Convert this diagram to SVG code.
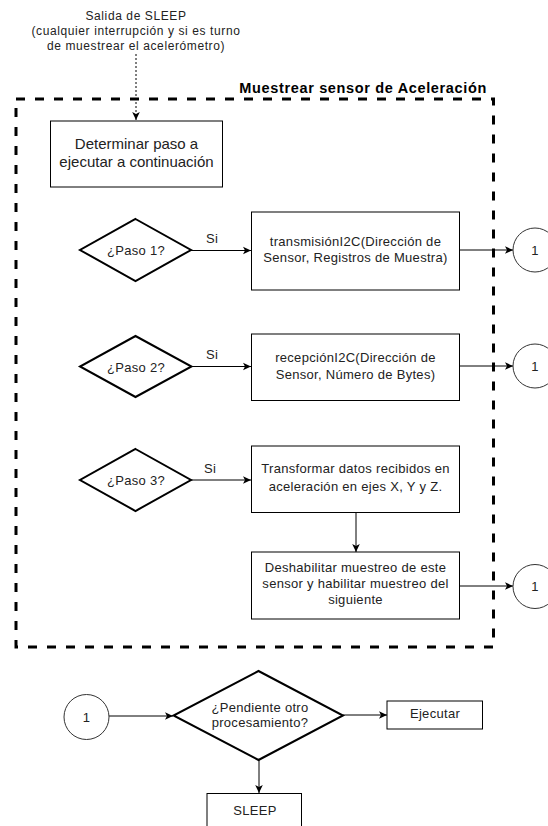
<svg xmlns="http://www.w3.org/2000/svg" width="548" height="826" viewBox="0 0 548 826">
  <style>
    .box { fill: #fff; stroke: #000; stroke-width: 1; }
    .dec { fill: #fff; stroke: #000; stroke-width: 2; }
    .conn { fill: #fff; stroke: #333; stroke-width: 1; }
    .edge { fill: none; stroke: #000; stroke-width: 1; }
    .t { font-family: "Liberation Sans", Arial, sans-serif; fill: #222; text-anchor: middle; }
    .s13 { font-size: 13px; letter-spacing: 0.3px; }
    .s12 { font-size: 12px; letter-spacing: 0.6px; }
    .s15 { font-size: 15px; }
    .title { font-family: "Liberation Sans", Arial, sans-serif; font-weight: bold; font-size: 14.5px; letter-spacing: 0.65px; fill: #000; text-anchor: end; }
  </style>
  <defs>
    <marker id="arrow" markerUnits="userSpaceOnUse" markerWidth="10" markerHeight="10" viewBox="0 0 10 10" refX="8" refY="5" orient="auto">
      <path d="M0,1.2 L8,5 L0,8.8 L2,5 Z" fill="#000"/>
    </marker>
  </defs>

  <rect width="548" height="826" fill="#fff"/>

  <!-- Group frame -->
  <g id="frame">
    <rect x="16" y="99" width="477.5" height="548" fill="none" stroke="#000" stroke-width="3" stroke-dasharray="9 10"/>
    <text class="title" x="487" y="93">Muestrear sensor de Aceleración</text>
  </g>

  <!-- Entry label -->
  <g id="entry">
    <text class="t s12" x="136" y="20">Salida de SLEEP</text>
    <text class="t s12" x="136" y="35">(cualquier interrupción y si es turno</text>
    <text class="t s12" x="136" y="49.5">de muestrear el acelerómetro)</text>
  </g>

  <!-- Connectors -->
  <g id="connectors">
    <path class="edge" d="M136,54 V120" stroke-dasharray="2 2" marker-end="url(#arrow)"/>
    <path class="edge" d="M191,250.5 H251" marker-end="url(#arrow)"/>
    <path class="edge" d="M460,250 H513" marker-end="url(#arrow)"/>
    <path class="edge" d="M191,366.5 H251" marker-end="url(#arrow)"/>
    <path class="edge" d="M460,366 H513" marker-end="url(#arrow)"/>
    <path class="edge" d="M191,480 H251" marker-end="url(#arrow)"/>
    <path class="edge" d="M356,513 V552" marker-end="url(#arrow)"/>
    <path class="edge" d="M460,586 H513" marker-end="url(#arrow)"/>
    <path class="edge" d="M109,716 H173" marker-end="url(#arrow)"/>
    <path class="edge" d="M343,715 H387" marker-end="url(#arrow)"/>
    <path class="edge" d="M259,760 V793" marker-end="url(#arrow)"/>
    <text class="t s13" x="212" y="243">Si</text>
    <text class="t s13" x="212" y="359">Si</text>
    <text class="t s13" x="210" y="473">Si</text>
  </g>

  <g id="determinar">
    <rect class="box" x="50.5" y="121" width="172" height="66"/>
    <text class="t s15" x="136.5" y="149">Determinar paso a</text>
    <text class="t s15" x="136.5" y="167">ejecutar a continuación</text>
  </g>

  <g id="paso1">
    <polygon class="dec" points="135.5,219 191,250 135.5,281 80,250"/>
    <text class="t s13" x="136" y="255">¿Paso 1?</text>
  </g>

  <g id="transmision">
    <rect class="box" x="251.5" y="212" width="208" height="78"/>
    <text class="t s13" x="355.5" y="245.5">transmisiónI2C(Dirección de</text>
    <text class="t s13" x="355.5" y="262">Sensor, Registros de Muestra)</text>
  </g>

  <g id="conector1a">
    <circle class="conn" cx="535" cy="250" r="22"/>
    <text class="t s13" x="535" y="254.5">1</text>
  </g>

  <g id="paso2">
    <polygon class="dec" points="135.5,336 191.5,366.5 135.5,397 80,366.5"/>
    <text class="t s13" x="136" y="371.5">¿Paso 2?</text>
  </g>

  <g id="recepcion">
    <rect class="box" x="251.5" y="334" width="208" height="66.5"/>
    <text class="t s13" x="355.5" y="361.5">recepciónI2C(Dirección de</text>
    <text class="t s13" x="355.5" y="379">Sensor, Número de Bytes)</text>
  </g>

  <g id="conector1b">
    <circle class="conn" cx="535" cy="366" r="22"/>
    <text class="t s13" x="535" y="370.5">1</text>
  </g>

  <g id="paso3">
    <polygon class="dec" points="135.5,449 191,480 135.5,511 80,480"/>
    <text class="t s13" x="136" y="485">¿Paso 3?</text>
  </g>

  <g id="transformar">
    <rect class="box" x="251.5" y="446" width="208" height="66.5"/>
    <text class="t s13" x="355.5" y="473">Transformar datos recibidos en</text>
    <text class="t s13" x="355.5" y="490.5">aceleración en ejes X, Y y Z.</text>
  </g>

  <g id="deshabilitar">
    <rect class="box" x="251.5" y="552" width="208" height="67"/>
    <text class="t s13" x="355.5" y="571.5">Deshabilitar muestreo de este</text>
    <text class="t s13" x="355.5" y="588">sensor y habilitar muestreo del</text>
    <text class="t s13" x="355.5" y="604">siguiente</text>
  </g>

  <g id="conector1c">
    <circle class="conn" cx="535" cy="586.5" r="22"/>
    <text class="t s13" x="535" y="591">1</text>
  </g>

  <g id="conector1d">
    <circle class="conn" cx="86.5" cy="717" r="22.5"/>
    <text class="t s13" x="86.5" y="721.5">1</text>
  </g>

  <g id="pendiente">
    <polygon class="dec" points="258.5,671 343,715.5 258.5,760 173.5,715.5"/>
    <text class="t s13" x="260" y="711.5">¿Pendiente otro</text>
    <text class="t s13" x="260" y="727">procesamiento?</text>
  </g>

  <g id="ejecutar">
    <rect class="box" x="387" y="701" width="95.5" height="28"/>
    <text class="t s13" x="435" y="717.5">Ejecutar</text>
  </g>

  <g id="sleep">
    <rect class="box" x="207" y="793.5" width="94.5" height="40"/>
    <text class="t s13" x="255" y="815">SLEEP</text>
  </g>
</svg>
